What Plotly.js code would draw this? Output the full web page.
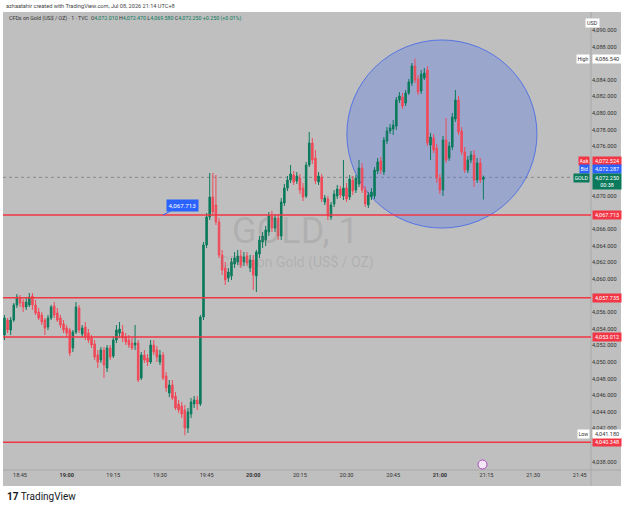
<!DOCTYPE html>
<html>
<head>
<meta charset="utf-8">
<script src="https://cdn.plot.ly/plotly-3.0.1.min.js"></script>
<style>
  html, body { margin: 0; padding: 0; background: #ffffff; }
  #chart { width: 625px; height: 510px; }
</style>
</head>
<body>
<div id="chart"></div>
<script>
// ---- Data (1-minute candles, Jul 08 2026, starting 18:40) ----
const startTime = '2026-07-08T18:40:00';
const openVals = [
4053.25,4055.06,4053.86,4055.06,4056.87,4057.71,4057.23,4056.63,4056.87,4057.95,
4056.87,4056.02,4055.66,4055.06,4054.22,4055.30,4056.75,4055.90,4055.30,4054.58,
4054.10,4053.86,4051.69,4053.61,4056.51,4053.37,4054.22,4053.49,4052.89,4052.17,
4050.84,4050.24,4051.45,4049.28,4051.69,4050.72,4052.65,4053.49,4053.61,4053.01,
4052.65,4052.29,4052.05,4052.29,4048.07,4050.84,4050.48,4050.00,4052.05,4051.45,
4050.00,4050.84,4048.31,4046.27,4047.23,4045.90,4044.94,4044.70,4044.22,4042.05,
4043.73,4044.94,4045.42,4044.94,4055.42,4064.10,4067.47,4069.88,4068.92,4066.87,
4062.89,4061.33,4060.12,4060.36,4061.81,4062.05,4062.77,4062.05,4062.77,4061.33,
4062.29,4060.36,4063.01,4064.46,4064.70,4065.67,4067.59,4066.15,4067.35,4065.18,
4069.16,4070.96,4071.93,4072.53,4071.81,4072.17,4070.96,4070.00,4073.73,4076.39,
4074.58,4071.69,4072.29,4069.28,4069.64,4067.47,4069.04,4070.00,4070.84,4070.00,
4070.96,4069.88,4071.93,4070.72,4071.45,4073.37,4070.72,4068.92,4069.88,4070.00,
4073.01,4074.22,4072.89,4076.63,4077.83,4078.07,4078.43,4081.57,4081.93,4081.20,
4082.41,4083.61,4085.66,4084.10,4082.65,4084.22,4085.18,4076.14,4076.99,4075.78,
4072.17,4070.72,4076.75,4074.58,4075.90,4079.28,4081.57,4077.83,4075.30,4073.13,
4074.34,4074.94,4071.93,4073.98,4072.01];
const highVals = [
4055.66,4055.30,4055.42,4057.11,4058.19,4058.07,4057.59,4057.71,4058.31,4058.31,
4057.47,4056.51,4056.02,4055.30,4055.66,4056.87,4057.23,4056.51,4055.66,4055.06,
4054.46,4054.10,4053.86,4057.23,4056.87,4054.46,4054.82,4053.98,4053.25,4052.65,
4051.45,4051.81,4051.81,4052.05,4052.05,4053.13,4054.46,4054.82,4054.46,4053.49,
4053.25,4052.89,4054.46,4052.65,4051.20,4051.45,4050.96,4052.65,4052.65,4051.93,
4051.45,4051.20,4048.80,4047.83,4047.83,4046.39,4045.42,4045.18,4044.82,4044.46,
4045.66,4045.90,4045.90,4055.66,4064.46,4067.95,4072.77,4072.77,4072.53,4067.35,
4063.50,4062.05,4061.33,4062.53,4063.25,4063.50,4063.50,4063.25,4063.25,4062.89,
4062.89,4063.50,4065.18,4065.66,4066.39,4068.07,4068.20,4067.83,4067.83,4069.76,
4071.45,4072.41,4073.73,4073.01,4072.89,4072.65,4071.57,4074.10,4077.71,4076.99,
4075.54,4072.89,4072.65,4070.12,4070.00,4069.28,4070.72,4071.33,4071.20,4074.34,
4071.57,4072.53,4072.41,4072.53,4074.34,4073.98,4071.20,4070.48,4070.96,4073.49,
4074.58,4074.70,4077.11,4078.31,4078.67,4079.16,4081.93,4082.53,4082.41,4082.77,
4084.10,4086.02,4086.54,4084.58,4085.18,4085.42,4085.66,4077.59,4077.47,4076.27,
4072.65,4077.23,4079.40,4076.51,4080.00,4082.77,4082.05,4078.31,4075.90,4074.82,
4075.42,4075.54,4074.58,4074.58,4072.47];
const lowVals = [
4052.65,4053.49,4053.25,4054.82,4056.51,4056.63,4056.02,4056.27,4056.63,4056.27,
4055.66,4055.06,4054.46,4053.25,4053.86,4055.06,4055.30,4054.82,4054.10,4053.49,
4053.01,4050.72,4051.20,4053.37,4053.49,4053.01,4052.65,4052.29,4051.69,4050.24,
4049.28,4049.88,4048.07,4048.80,4050.24,4050.48,4052.29,4052.89,4052.41,4052.05,
4051.69,4051.45,4051.45,4047.59,4047.83,4049.88,4049.52,4049.76,4050.84,4050.00,
4049.64,4047.83,4046.39,4045.78,4045.42,4044.22,4043.86,4043.25,4041.18,4041.45,
4043.25,4044.46,4044.22,4044.70,4055.06,4063.74,4067.11,4067.71,4066.51,4062.53,
4060.48,4059.28,4059.64,4059.88,4061.33,4061.69,4061.33,4061.57,4061.57,4060.84,
4058.68,4058.43,4062.53,4063.74,4063.98,4065.18,4065.67,4065.67,4064.70,4064.70,
4068.80,4070.60,4071.57,4071.33,4071.45,4070.24,4069.40,4069.76,4073.49,4073.86,
4071.45,4071.33,4069.28,4068.92,4067.11,4067.11,4068.68,4069.64,4069.76,4069.52,
4069.28,4069.52,4070.12,4070.36,4071.08,4070.36,4068.68,4068.56,4069.52,4069.64,
4072.65,4072.65,4072.53,4076.27,4077.47,4077.35,4077.95,4081.20,4080.48,4080.84,
4082.17,4083.25,4083.61,4082.17,4082.29,4083.98,4076.02,4074.34,4075.18,4071.57,
4070.24,4070.00,4073.98,4074.22,4075.54,4078.92,4077.35,4074.94,4072.77,4072.77,
4073.98,4071.08,4071.57,4071.57,4069.58];
const closeVals = [
4055.30,4053.86,4055.06,4056.87,4057.83,4057.11,4056.63,4057.23,4057.83,4056.87,
4055.90,4055.30,4054.82,4054.10,4055.30,4056.63,4055.66,4055.06,4054.46,4053.86,
4053.49,4051.08,4053.61,4056.63,4053.86,4054.10,4053.13,4052.65,4052.05,4050.60,
4050.00,4051.45,4049.64,4051.69,4050.60,4052.65,4053.86,4053.98,4052.89,4052.41,
4052.05,4051.69,4052.29,4047.83,4050.84,4050.24,4050.00,4052.05,4051.20,4050.60,
4050.84,4048.07,4046.87,4047.23,4045.66,4044.46,4044.22,4043.73,4042.05,4043.98,
4045.18,4045.42,4044.94,4055.42,4064.10,4067.47,4069.88,4068.07,4066.87,4062.89,
4061.09,4059.88,4060.84,4062.05,4062.53,4062.77,4061.69,4062.65,4061.93,4062.29,
4060.48,4063.25,4064.70,4065.18,4065.91,4067.59,4066.15,4067.35,4065.18,4069.28,
4070.96,4071.93,4072.65,4071.69,4072.41,4070.72,4069.88,4073.73,4076.39,4074.34,
4071.81,4072.41,4069.64,4069.76,4067.59,4068.92,4070.24,4070.84,4070.12,4070.96,
4069.64,4072.05,4070.60,4072.17,4073.37,4070.72,4069.04,4070.12,4070.48,4073.13,
4074.10,4073.13,4076.75,4077.83,4078.19,4078.55,4081.57,4082.05,4080.84,4082.41,
4083.73,4085.66,4083.98,4082.53,4084.70,4084.82,4076.39,4077.11,4075.54,4072.17,
4070.72,4076.75,4074.34,4076.02,4079.52,4081.57,4077.71,4075.30,4073.13,4074.34,
4074.94,4071.93,4073.98,4071.93,4072.25];

const tickLabels = ['18:45','19:00','19:15','19:30','19:45','20:00','20:15','20:30','20:45','21:00','21:15','21:30','21:45'];
// price-axis ticks that stay visible (the others are covered by price tags)
const priceTicks = [4038,4042,4044,4046,4048,4050,4052,4054,4056,4060,4062,4064,4066,4070,4076,4078,4080,4082,4084,4088,4090];
const levelValues = [4067.713, 4057.735, 4053.012, 4040.348];
const sessionHigh = 4086.540;
const sessionLow = 4041.180;
const askPrice = 4072.524;
const bidPrice = 4072.287;
const lastPrice = 4072.250;
const calloutValue = 4067.713;
const headerO = 4072.010, headerH = 4072.470, headerL = 4069.580, headerC = 4072.250;
const headerChg = '+0.250 (+0.01%)';

// ---- helpers ----
const day = '2026-07-08 ';
function fmt(v) {
  const s = v.toFixed(3);
  const parts = s.split('.');
  return parts[0].replace(/\B(?=(\d{3})+(?!\d))/g, ',') + '.' + parts[1];
}
const t0 = new Date(startTime + 'Z').getTime();
const times = openVals.map((_, i) => {
  const d = new Date(t0 + i * 60000);
  return d.toISOString().slice(0, 19).replace('T', ' ');
});

const GREEN = '#0b7a5c';
const RED = '#f04a59';
const BG = '#bfbfbf';
const FONT = 'Roboto, "Liberation Sans", Arial, sans-serif';

// paper coordinate helpers (plot area: px 3..591, py 12..470)
const px = x => (x - 3) / 588;
const py = y => (470 - y) / 458;

const trace = {
  type: 'candlestick',
  x: times,
  open: openVals, high: highVals, low: lowVals, close: closeVals,
  increasing: { line: { color: GREEN, width: 1 }, fillcolor: GREEN },
  decreasing: { line: { color: RED, width: 1 }, fillcolor: RED },
  whiskerwidth: 0,
  hoverinfo: 'skip',
  showlegend: false
};

const shapes = [
  { type: 'rect', xref: 'paper', yref: 'paper', x0: px(3), x1: px(621), y0: py(486), y1: py(12),
    fillcolor: BG, line: { width: 0 }, layer: 'below' },
  { type: 'line', xref: 'paper', yref: 'paper', x0: 1, x1: 1, y0: py(486), y1: 1,
    line: { color: '#a9a9a9', width: 1 }, layer: 'below' },
  { type: 'line', xref: 'paper', yref: 'paper', x0: 0, x1: px(621), y0: 0, y1: 0,
    line: { color: '#a9a9a9', width: 1 }, layer: 'below' },
  { type: 'line', xref: 'paper', yref: 'y', x0: 0, x1: 1, y0: lastPrice, y1: lastPrice,
    line: { color: '#8a8a8a', width: 1, dash: 'dot' }, layer: 'below' },
  { type: 'circle', xref: 'x', yref: 'y', x0: day + '20:30:06', x1: day + '21:31:13', y0: 4066.14, y1: 4088.80,
    fillcolor: 'rgba(80,115,235,0.32)', line: { color: 'rgba(70,105,230,0.85)', width: 1 }, layer: 'below' },
  { type: 'circle', xref: 'paper', yref: 'paper', x0: px(478), x1: px(487), y0: py(469), y1: py(460),
    fillcolor: '#f3e6f6', line: { color: '#b04ac2', width: 1 } }
];
levelValues.forEach(v => shapes.push({
  type: 'line', xref: 'paper', yref: 'y', x0: 0, x1: 1, y0: v, y1: v,
  line: { color: '#f23645', width: 1.5 }
}));

const annotations = [];
function axisTag(value, text, bg, fg, yshift, h) {
  annotations.push({ xref: 'paper', yref: 'y', x: 1, y: value, xanchor: 'left', yanchor: 'middle',
    xshift: 1, yshift: yshift || 0, text: text, showarrow: false, bgcolor: bg, borderpad: 0.5,
    width: 27, height: h || 7, align: 'center', valign: 'middle',
    font: { family: FONT, size: 5.5, color: fg } });
}
function sideTag(value, text, bg, fg, yshift, h) {
  annotations.push({ xref: 'paper', yref: 'y', x: 1, y: value, xanchor: 'right', yanchor: 'middle',
    xshift: -1, yshift: yshift || 0, text: text, showarrow: false, bgcolor: bg, borderpad: 0.5,
    height: h || 7, font: { family: FONT, size: 5.3, color: fg } });
}
levelValues.forEach(v => axisTag(v, fmt(v), '#f23645', '#ffffff', 0));
axisTag(sessionHigh, fmt(sessionHigh), '#ffffff', '#333333', 0);
sideTag(sessionHigh, 'High', '#ffffff', '#333333', 0);
axisTag(sessionLow, fmt(sessionLow), '#ffffff', '#333333', 1);
sideTag(sessionLow, 'Low', '#ffffff', '#333333', 1);
axisTag(askPrice, fmt(askPrice), '#f23645', '#ffffff', 14);
sideTag(askPrice, 'Ask', '#f23645', '#ffffff', 14);
axisTag(bidPrice, fmt(bidPrice), '#2962ff', '#ffffff', 8);
sideTag(bidPrice, 'Bid', '#2962ff', '#ffffff', 8);
axisTag(lastPrice, fmt(lastPrice) + '<br>00:38', GREEN, '#ffffff', -4, 14);
sideTag(lastPrice, 'GOLD', GREEN, '#ffffff', -1);

annotations.push({ xref: 'paper', yref: 'paper', x: px(600), y: py(18), text: 'USD', showarrow: false,
  bgcolor: '#ffffff', borderpad: 1, font: { family: FONT, size: 5.4, color: '#333333' } });

annotations.push({ xref: 'x', yref: 'y', x: day + '19:31:00', y: calloutValue, text: fmt(calloutValue),
  showarrow: true, arrowhead: 0, arrowwidth: 1, arrowcolor: '#2962ff', ax: 19, ay: -10, standoff: 0,
  bgcolor: '#2962ff', borderpad: 1.5, font: { family: FONT, size: 6.2, color: '#ffffff' } });

annotations.push({ xref: 'paper', yref: 'paper', x: px(295), y: py(231), text: 'GOLD, 1', showarrow: false,
  font: { family: FONT, size: 36, color: 'rgba(120,120,120,0.22)' } });
annotations.push({ xref: 'paper', yref: 'paper', x: px(297), y: py(262), text: 'CFDs on Gold (US$ / OZ)', showarrow: false,
  font: { family: FONT, size: 14, color: 'rgba(120,120,120,0.22)' } });

annotations.push({ xref: 'paper', yref: 'paper', x: px(4), y: py(6), xanchor: 'left', yanchor: 'middle',
  text: 'azhaatahir created with TradingView.com, Jul 08, 2026 21:14 UTC+8', showarrow: false,
  font: { family: FONT, size: 5.6, color: '#444444' } });
const gv = v => '<span style="color:#0b7a5c">' + fmt(v) + '</span>';
annotations.push({ xref: 'paper', yref: 'paper', x: px(7), y: py(18), xanchor: 'left', yanchor: 'middle',
  text: 'CFDs on Gold (US$ / OZ) · 1 · TVC  O' + gv(headerO) + ' H' + gv(headerH) + ' L' + gv(headerL) + ' C' + gv(headerC) +
        ' <span style="color:#0b7a5c">' + headerChg + '</span>',
  showarrow: false, font: { family: FONT, size: 5.3, color: '#333333' } });
annotations.push({ xref: 'paper', yref: 'paper', x: px(5), y: py(496), xanchor: 'left', yanchor: 'middle',
  text: '<b>17</b> TradingView', showarrow: false, font: { family: FONT, size: 10, color: '#131722' } });

const layout = {
  width: 625, height: 510,
  margin: { l: 3, r: 34, t: 12, b: 40 },
  paper_bgcolor: '#ffffff',
  plot_bgcolor: 'rgba(0,0,0,0)',
  font: { family: FONT, color: '#333333' },
  showlegend: false,
  xaxis: {
    type: 'date',
    range: [day + '18:39:32', day + '21:48:36'],
    rangeslider: { visible: false },
    tickvals: tickLabels.map(t => day + t),
    ticktext: tickLabels.map(t => t.endsWith(':00') ? '<b>' + t + '</b>' : t),
    tickfont: { size: 5.6, color: '#333333' },
    showgrid: false, zeroline: false, showline: false, ticks: '', fixedrange: true
  },
  yaxis: {
    side: 'right',
    range: [4036.99, 4092.17],
    tickvals: priceTicks,
    ticktext: priceTicks.map(fmt),
    tickfont: { size: 5.6, color: '#333333' },
    showgrid: false, zeroline: false, showline: false, ticks: '', fixedrange: true
  },
  shapes: shapes,
  annotations: annotations
};

Plotly.newPlot('chart', [trace], layout, { staticPlot: true, displayModeBar: false });
</script>
</body>
</html>
